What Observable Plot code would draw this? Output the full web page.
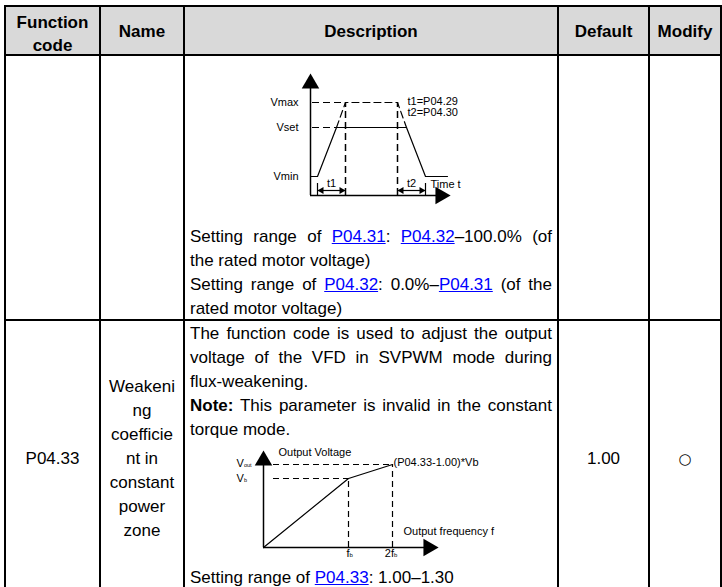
<!DOCTYPE html>
<html>
<head>
<meta charset="utf-8">
<script src="https://cdn.jsdelivr.net/npm/d3@7"></script>
<script src="https://cdn.jsdelivr.net/npm/@observablehq/plot@0.6"></script>
<style>
body{margin:0;background:#fff}
#page{position:relative;width:722px;height:587px;overflow:hidden;font-family:"Liberation Sans",Arial,sans-serif;color:#000}
.hl{position:absolute;background:#000;height:2px}
.vl{position:absolute;background:#000;width:2px}
.t{position:absolute;font-size:17px;line-height:24px;white-space:nowrap}
.c{text-align:center}
.j{text-align:justify;text-align-last:justify;white-space:normal}
.hd{font-weight:bold;line-height:23px}
.sym{font-family:"DejaVu Sans",sans-serif;font-size:15px}
a{color:#0000ff;text-decoration:underline}
#page svg{position:absolute;overflow:visible;background:transparent}
</style>
</head>
<body>
<div id="page"></div>
<script>
// ---------- table content ----------
const headers = [["Function", "code"], ["Name"], ["Description"], ["Default"], ["Modify"]];
const functionCode = "P04.33";
const nameLines = ["Weakeni", "ng", "coefficie", "nt in", "constant", "power", "zone"];
const defaultValue = "1.00";
const modifySymbol = "○";
const row1Lines = [
  ["Setting range of <a>P04.31</a>: <a>P04.32</a>–100.0% (of", true],
  ["the rated motor voltage)", false],
  ["Setting range of <a>P04.32</a>: 0.0%–<a>P04.31</a> (of the", true],
  ["rated motor voltage)", false]
];
const row2Lines = [
  ["The function code is used to adjust the output", true],
  ["voltage of the VFD in SVPWM mode during", true],
  ["flux-weakening.", false],
  ["<b>Note:</b> This parameter is invalid in the constant", true],
  ["torque mode.", false]
];
const row2Last = "Setting range of <a>P04.33</a>: 1.00–1.30";

// ---------- diagram 1: acceleration / deceleration profile ----------
const levelNames = ["Vmax", "Vset", "Vmin"];
const levelValues = [93, 68, 19];
const outputTime = [0, 7, 26, 96, 115, 137];
const outputVolt = [19, 19, 68, 68, 19, 19];
const rampTime = [26, 35, 87, 96];
const rampVolt = [68, 93, 93, 68];
const t1Span = [7, 35];
const t2Span = [87, 115];
const timeNotes = ["t1=P04.29", "t2=P04.30"];

// ---------- diagram 2: flux-weakening V/f ----------
const freqPoints = [0, 85, 129];   // 0, fb, 2fb
const voltPoints = [0, 69, 83];    // 0, Vb, Vout

// ---------- layout helpers ----------
const page = document.getElementById("page");
const cols = [5, 100, 184, 558, 649, 721];
function add(cls, style, html) {
  const d = document.createElement("div");
  d.className = cls;
  Object.assign(d.style, style);
  if (html !== undefined) d.innerHTML = html;
  page.appendChild(d);
  return d;
}
// header background
add("", {position: "absolute", left: "5px", top: "6px", width: "716px", height: "49px", background: "#d9d9d9"});
// grid
[6, 55, 320].forEach(y => add("hl", {left: "4px", width: "718px", top: (y - 1) + "px"}));
cols.forEach(x => add("vl", {left: (x - 1) + "px", top: "5px", height: "600px"}));

// header texts
headers.forEach((h, i) => {
  const cy = h.length === 2 ? 33.5 : 31;
  add("t c hd", {left: cols[i] + "px", width: (cols[i + 1] - cols[i]) + "px", top: (cy - h.length * 11.5) + "px"}, h.join("<br>"));
});

function cell(i, cy, html, extra) {
  add("t c" + (extra ? " " + extra : ""), {left: cols[i] + "px", width: (cols[i + 1] - cols[i]) + "px", top: (cy - 12) + "px"}, html);
}
cell(0, 459, functionCode);
nameLines.forEach((s, k) => cell(1, 387 + 24 * k, s));
cell(3, 459, defaultValue);
cell(4, 459, modifySymbol, "sym");

function desc(cy, html, justify) {
  add("t" + (justify ? " j" : ""), {left: "190px", width: "362px", top: (cy - 12) + "px"}, html);
}
row1Lines.forEach(([s, j], k) => desc(237 + 24 * k, s, j));
row2Lines.forEach(([s, j], k) => desc(334 + 24 * k, s, j));
desc(578, row2Last, false);

// ---------- Plot diagrams ----------
const font = "Liberation Sans, Arial, sans-serif";
const pts = (xs, ys) => xs.map((x, i) => ({x, y: ys[i]}));

const d1 = Plot.plot({
  width: 240, height: 135, margin: 0,
  style: {fontFamily: font, background: "transparent", overflow: "visible"},
  x: {domain: [0, 140], range: [80, 220], axis: null},
  y: {domain: [0, 122], range: [130, 8], axis: null},
  marks: [
    // axes
    Plot.ruleX([0], {y1: 0, y2: 112, strokeWidth: 1.5}),
    Plot.ruleY([0], {x1: 0, x2: 130, strokeWidth: 1.5}),
    Plot.dot([{x: 0, y: 112}], {x: "x", y: "y", symbol: "triangle", r: 6.5, fill: "black", stroke: null}),
    Plot.dot([{x: 130, y: 0}], {x: "x", y: "y", symbol: "triangle", r: 6.5, fill: "black", stroke: null, rotate: 90}),
    // dashed guides
    Plot.ruleY([levelValues[0]], {x1: 2, x2: rampTime[1], strokeDasharray: "7,4", strokeWidth: 1.2}),
    Plot.ruleY([levelValues[1]], {x1: 2, x2: rampTime[0], strokeDasharray: "7,4", strokeWidth: 1.2}),
    Plot.line(pts(rampTime, rampVolt), {x: "x", y: "y", strokeDasharray: "7,4", strokeWidth: 1.2}),
    Plot.ruleX([t1Span[1], t2Span[0]], {y1: 0, y2: levelValues[0], strokeDasharray: "7,4", strokeWidth: 1.5}),
    // actual output
    Plot.line(pts(outputTime, outputVolt), {x: "x", y: "y", strokeWidth: 1.2}),
    // t1 / t2 markers
    Plot.ruleX([t1Span[0], t2Span[1]], {y1: 0, y2: 12, strokeWidth: 1.2}),
    Plot.ruleY([5], {x1: t1Span[0], x2: t1Span[1], strokeWidth: 1.2}),
    Plot.ruleY([5], {x1: t2Span[0], x2: t2Span[1], strokeWidth: 1.2}),
    Plot.dot([
      {x: t1Span[0] + 4, y: 5, a: -90}, {x: t1Span[1] - 4, y: 5, a: 90},
      {x: t2Span[0] + 4, y: 5, a: -90}, {x: t2Span[1] - 4, y: 5, a: 90}
    ], {x: "x", y: "y", rotate: "a", symbol: "triangle", r: 2.6, fill: "black", stroke: null}),
    // labels
    Plot.text(levelNames.map((n, i) => ({n, v: levelValues[i]})), {x: -12, y: "v", text: "n", textAnchor: "end", fontSize: 11}),
    Plot.text(timeNotes.map((n, i) => ({n, v: levelValues[0] + 1 - 11 * i})), {x: 97, y: "v", text: "n", textAnchor: "start", fontSize: 11}),
    Plot.text([{s: "t1", x: 21}, {s: "t2", x: 101}], {x: "x", y: 12, text: "s", fontSize: 11}),
    Plot.text(["Time t"], {x: 120, y: 11, text: d => d, textAnchor: "start", fontSize: 11})
  ]
});
d1.style.left = "230px";
d1.style.top = "65px";
page.appendChild(d1);

const [f0, fb, f2b] = freqPoints;
const [v0, vb, vout] = voltPoints;
const d2 = Plot.plot({
  width: 290, height: 125, margin: 0,
  style: {fontFamily: font, background: "transparent", overflow: "visible"},
  x: {domain: [0, 175], range: [43, 218], axis: null},
  y: {domain: [0, 97], range: [107, 10], axis: null},
  marks: [
    Plot.ruleX([0], {y1: 0, y2: 87, strokeWidth: 1.5}),
    Plot.ruleY([0], {x1: 0, x2: 165, strokeWidth: 1.5}),
    Plot.dot([{x: 0, y: 87}], {x: "x", y: "y", symbol: "triangle", r: 6.5, fill: "black", stroke: null}),
    Plot.dot([{x: 165, y: 0}], {x: "x", y: "y", symbol: "triangle", r: 6.5, fill: "black", stroke: null, rotate: 90}),
    Plot.ruleY([vb], {x1: 10, x2: fb, strokeDasharray: "6,4", strokeWidth: 1.2}),
    Plot.ruleY([vout], {x1: 10, x2: f2b, strokeDasharray: "6,4", strokeWidth: 1.2}),
    Plot.ruleX([fb], {y1: 0, y2: vb, strokeDasharray: "6,4", strokeWidth: 1.2}),
    Plot.ruleX([f2b], {y1: 0, y2: vout, strokeDasharray: "6,4", strokeWidth: 1.2}),
    Plot.line(pts(freqPoints, voltPoints), {x: "x", y: "y", strokeWidth: 1.2}),
    // labels
    Plot.text(["Output Voltage"], {x: 15, y: 95, text: d => d, textAnchor: "start", fontSize: 11}),
    Plot.text(["V", "V"], {x: -27, y: [vout + 1, vb], text: d => d, textAnchor: "start", fontSize: 11}),
    Plot.text(["out", "b"], {x: -19.6, y: [vout - 1, vb - 2], text: d => d, textAnchor: "start", fontSize: 5.5}),
    Plot.text(["(P04.33-1.00)*Vb"], {x: f2b + 1, y: vout + 2, text: d => d, textAnchor: "start", fontSize: 11}),
    Plot.text(["Output frequency f"], {x: 140, y: 16, text: d => d, textAnchor: "start", fontSize: 11}),
    Plot.text(["f", "2f"], {x: [fb + 1, f2b + 1.5], y: -6, text: d => d, textAnchor: "end", fontSize: 11}),
    Plot.text(["b", "b"], {x: [fb + 1, f2b + 1.5], y: -8, text: d => d, textAnchor: "start", fontSize: 6})
  ]
});
d2.style.left = "220px";
d2.style.top = "440px";
page.appendChild(d2);
</script>
</body>
</html>
